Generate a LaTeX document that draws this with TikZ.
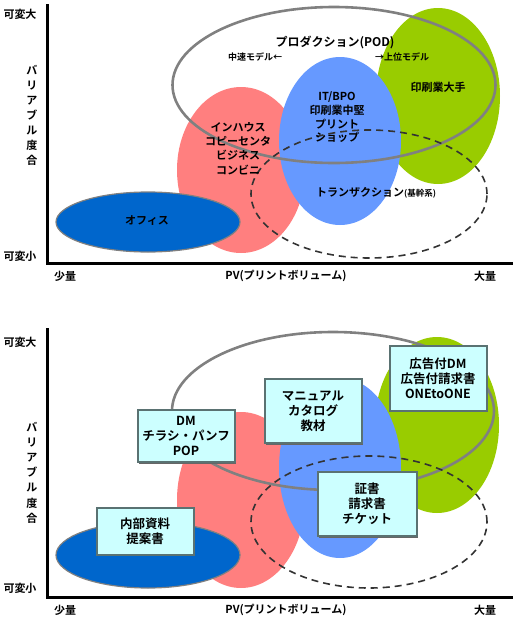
\documentclass[tikz,border=0pt]{standalone}
\usepackage{fontspec}
\setmainfont{Noto Sans CJK JP}[BoldFont={Noto Sans CJK JP Bold}]
\usetikzlibrary{shapes.geometric,shadows}
\definecolor{pinkC}{HTML}{FF7F7F}
\definecolor{blueC}{HTML}{6699FF}
\definecolor{greenC}{HTML}{99CC00}
\definecolor{officeC}{HTML}{0066CC}
\definecolor{boxC}{HTML}{CCFFFF}
\definecolor{lineC}{HTML}{808080}
\definecolor{boxEdge}{HTML}{5A7272}
\begin{document}
\begin{tikzpicture}[x=1pt,y=-1pt,
  lbl/.style={font=\bfseries\fontsize{11}{14}\selectfont, inner sep=0, align=center},
  small/.style={font=\bfseries\fontsize{9}{10}\selectfont, inner sep=0},
  blob/.style={ellipse, inner sep=0},
  axis/.style={line width=3pt},
  pod/.style={ellipse, draw=lineC, line width=2.6pt, inner sep=0},
  trans/.style={ellipse, draw=black!80, line width=1.6pt, dash pattern=on 7pt off 5pt, inner sep=0},
  box/.style={draw=boxEdge, line width=2pt, fill=boxC, inner sep=0, align=center,
    font=\bfseries\fontsize{12.5}{15}\selectfont,
    drop shadow={shadow xshift=1.5pt, shadow yshift=-1.5pt, fill=black!60, opacity=1}}]
\useasboundingbox (0,0) rectangle (519,619);
% ================= top panel =================
\node[blob, fill=greenC, minimum width=124pt, minimum height=176pt] (g1) at (438,96) {};
\node[blob, fill=pinkC, minimum width=128pt, minimum height=166pt] (p1) at (241,170) {};
\node[blob, fill=blueC, minimum width=122pt, minimum height=168pt] (b1) at (340,141) {};
\node[blob, fill=officeC, draw=lineC, line width=1.2pt, minimum width=184pt, minimum height=60pt] (o1) at (148,222) {};
\node[pod, minimum width=323pt, minimum height=156pt] (pod1) at (334,85) {};
\node[trans, minimum width=236pt, minimum height=128pt] (tr1) at (369,194) {};
\coordinate (y1t) at (47,4);
\coordinate (y1o) at (47,263);
\coordinate (x1r) at (513,263);
\draw[axis] (y1t) -- (y1o) -- (x1r);
\node[lbl] (vmax1) at (20,14) {可変大};
\node[lbl] (vmin1) at (20,256) {可変小};
\node[lbl, font=\bfseries\fontsize{11}{15}\selectfont] (var1) at (32,115) {バ\\リ\\ア\\ブ\\ル\\度\\合};
\node[lbl] (few1) at (65,276) {少量};
\node[lbl] (pv1) at (286,276) {PV(プリントボリューム)};
\node[lbl] (many1) at (485,276) {大量};
\node[lbl, font=\bfseries\fontsize{12}{14}\selectfont] (podt1) at (335,43) {プロダクション(POD)};
\node[small] (mid1) at (255,57) {中速モデル←};
\node[small] (high1) at (402,57) {→上位モデル};
\node[lbl] (big1) at (438,87) {印刷業大手};
\node[lbl, font=\bfseries\fontsize{11}{13.7}\selectfont] (itb1) at (337,117.5) {IT/BPO\\印刷業中堅\\プリント\\ショップ};
\node[lbl, font=\bfseries\fontsize{11}{14.3}\selectfont] (inh1) at (238,148.5) {インハウス\\コピーセンタ\\ビジネス\\コンビニ};
\node[lbl] (off1) at (147,221) {オフィス};
\node[lbl] (trt1) at (376,193) {トランザクション{\fontsize{8.5}{10}\selectfont(基幹系)}};
% ================= bottom panel =================
\node[blob, fill=greenC, minimum width=124pt, minimum height=176pt] (g2) at (437,425) {};
\node[blob, fill=pinkC, minimum width=128pt, minimum height=176pt] (p2) at (241,500) {};
\node[blob, fill=blueC, minimum width=122pt, minimum height=180pt] (b2) at (340,468) {};
\node[blob, fill=officeC, draw=lineC, line width=1.2pt, minimum width=184pt, minimum height=66pt] (o2) at (148,555) {};
\node[pod, minimum width=322pt, minimum height=158pt] (pod2) at (333,411) {};
\node[trans, minimum width=236pt, minimum height=132pt] (tr2) at (369,522) {};
\coordinate (y2t) at (47,328);
\coordinate (y2o) at (47,597);
\coordinate (x2r) at (513,597);
\draw[axis] (y2t) -- (y2o) -- (x2r);
\node[lbl] (vmax2) at (20,342) {可変大};
\node[lbl] (vmin2) at (20,588) {可変小};
\node[lbl, font=\bfseries\fontsize{11}{15.2}\selectfont] (var2) at (32,472.5) {バ\\リ\\ア\\ブ\\ル\\度\\合};
\node[lbl] (few2) at (65,610) {少量};
\node[lbl] (pv2) at (286,610) {PV(プリントボリューム)};
\node[lbl] (many2) at (485,610) {大量};
\node[box, minimum width=97pt, minimum height=52pt] (bx1) at (186,436) {DM\\チラシ・パンフ\\POP};
\node[box, minimum width=97pt, minimum height=64pt] (bx2) at (313,411) {マニュアル\\カタログ\\教材};
\node[box, minimum width=97pt, minimum height=65pt] (bx3) at (438,378) {広告付DM\\広告付請求書\\ONEtoONE};
\node[box, minimum width=97pt, minimum height=47pt] (bx4) at (145,531) {内部資料\\提案書};
\node[box, minimum width=99pt, minimum height=64pt] (bx5) at (367,504) {証書\\請求書\\チケット};
\end{tikzpicture}
\end{document}
